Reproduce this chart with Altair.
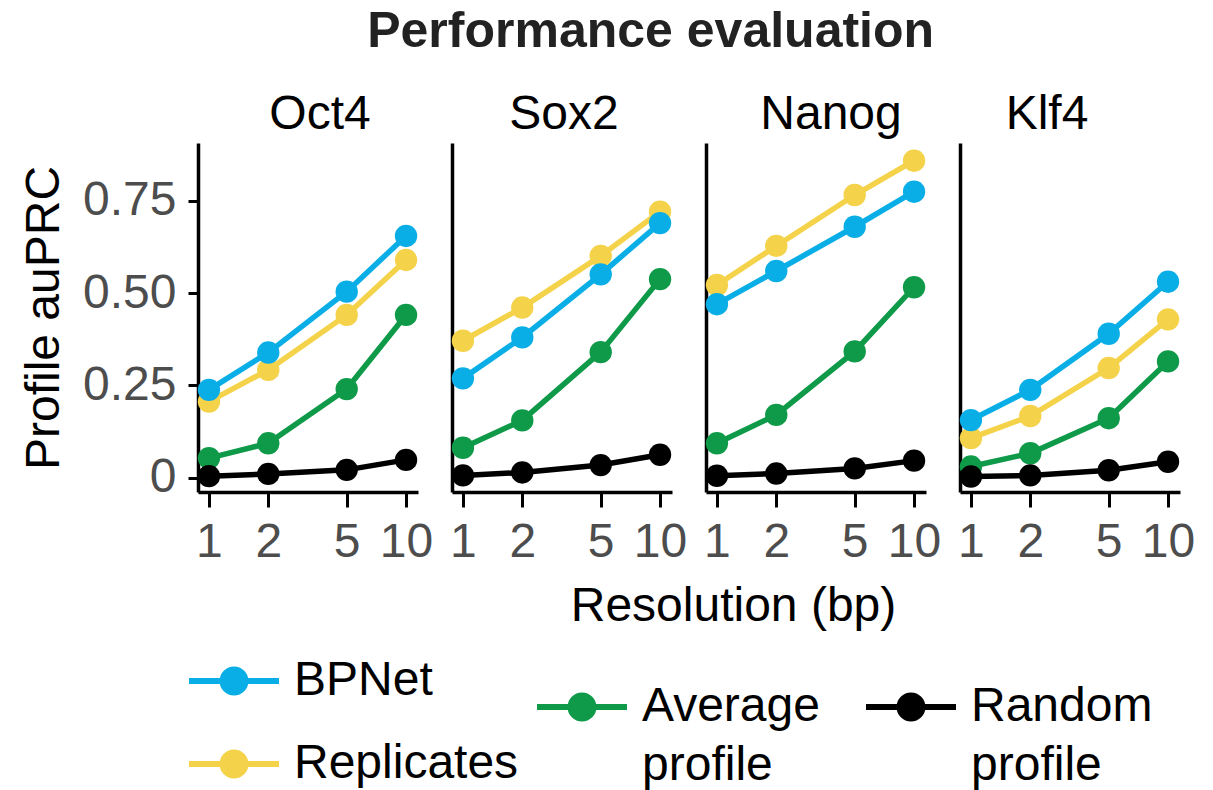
import altair as alt
import pandas as pd

# ---- data ----
resolution = [1, 2, 5, 10]
factors = ["Oct4", "Sox2", "Nanog", "Klf4"]
series_names = ["BPNet", "Replicates", "Average profile", "Random profile"]
series_colors = ["#0AAEE6", "#F4D24A", "#0E9A48", "#000000"]

oct4_bpnet = [0.238, 0.339, 0.504, 0.655]
oct4_replicates = [0.206, 0.292, 0.441, 0.590]
oct4_average = [0.053, 0.093, 0.240, 0.441]
oct4_random = [0.004, 0.010, 0.021, 0.048]

sox2_bpnet = [0.269, 0.380, 0.551, 0.690]
sox2_replicates = [0.371, 0.461, 0.601, 0.721]
sox2_average = [0.081, 0.155, 0.340, 0.538]
sox2_random = [0.006, 0.014, 0.034, 0.062]

nanog_bpnet = [0.470, 0.560, 0.680, 0.775]
nanog_replicates = [0.522, 0.628, 0.766, 0.859]
nanog_average = [0.093, 0.170, 0.342, 0.516]
nanog_random = [0.005, 0.011, 0.025, 0.046]

klf4_bpnet = [0.156, 0.238, 0.390, 0.531]
klf4_replicates = [0.107, 0.167, 0.297, 0.429]
klf4_average = [0.030, 0.066, 0.161, 0.315]
klf4_random = [0.003, 0.006, 0.020, 0.043]

y_ticks = [0, 0.25, 0.5, 0.75]

values = {
    "Oct4": [oct4_bpnet, oct4_replicates, oct4_average, oct4_random],
    "Sox2": [sox2_bpnet, sox2_replicates, sox2_average, sox2_random],
    "Nanog": [nanog_bpnet, nanog_replicates, nanog_average, nanog_random],
    "Klf4": [klf4_bpnet, klf4_replicates, klf4_average, klf4_random],
}

# draw order: Replicates under BPNet, Average under Random
draw_order = ["Replicates", "BPNet", "Average profile", "Random profile"]
rows = []
for f in factors:
    for s in draw_order:
        vals = values[f][series_names.index(s)]
        for r, v in zip(resolution, vals):
            rows.append({"factor": f, "series": s, "resolution": r, "auprc": v})
df = pd.DataFrame(rows)

group_a = series_names[:2]
group_b = series_names[2:]
colors_a = series_colors[:2]
colors_b = series_colors[2:]

FONT = "Liberation Sans"
LABEL_GREY = "#4D4D4D"
SYMBOL = "M-1,0L1,0M-0.255,0A0.255,0.255,0,1,1,0.255,0A0.255,0.255,0,1,1,-0.255,0Z"

legend_common = dict(
    symbolType=SYMBOL,
    symbolSize=8100,
    symbolStrokeWidth=6,
    labelFontSize=48,
    labelFont=FONT,
    labelColor="#000000",
    labelLimit=500,
    labelOffset=12,
    title=None,
    orient="none",
)

legend_a = alt.Legend(direction="vertical", legendX=-12, legendY=490,
                      rowPadding=11, **legend_common)
legend_b = alt.Legend(direction="horizontal", legendX=336, legendY=516,
                      columnPadding=34, labelExpr="split(datum.label, ' ')",
                      **legend_common)

W, H = 220, 349
title_shift = [12, 2, 15, -23]


def panel(i, name):
    d = df[df["factor"] == name]
    first = i == 0
    x_axis = alt.Axis(
        values=resolution, format="d", labelFontSize=48, labelColor=LABEL_GREY,
        labelFont=FONT, tickSize=15, tickWidth=3, tickColor="black",
        domainColor="black", domainWidth=3.5, grid=False, labelPadding=11,
        labelFlush=False, labelOverlap=False,
        title="Resolution (bp)" if i == 1 else None,
        titleFontSize=48, titleFont=FONT, titleFontWeight="normal",
        titleColor="black", titlePadding=16,
        **({"titleX": 281} if i == 1 else {}),
    )
    if first:
        y_axis = alt.Axis(
            values=y_ticks,
            labelExpr="datum.value == 0 ? '0' : format(datum.value, '.2f')",
            labelFontSize=48, labelColor=LABEL_GREY, labelFont=FONT,
            tickSize=10, tickWidth=3, tickColor="black", domainColor="black",
            domainWidth=3.5, grid=False, labelPadding=12,
            title="Profile auPRC", titleFontSize=48, titleFont=FONT,
            titleFontWeight="normal", titleColor="black", titlePadding=14,
        )
    else:
        y_axis = alt.Axis(
            values=y_ticks, labels=False, ticks=False, domainColor="black",
            domainWidth=3.5, grid=False, title=None,
        )
    x = alt.X("resolution:Q",
              scale=alt.Scale(type="log", domain=[0.88, 11.5], nice=False),
              axis=x_axis)
    y = alt.Y("auprc:Q",
              scale=alt.Scale(domain=[-0.039, 0.907], nice=False, zero=False),
              axis=y_axis)
    base = alt.Chart(d)
    a = base.transform_filter(alt.FieldOneOfPredicate(field="series", oneOf=group_a))
    b = base.transform_filter(alt.FieldOneOfPredicate(field="series", oneOf=group_b))
    color_a = alt.Color("series:N",
                        scale=alt.Scale(domain=group_a, range=colors_a),
                        legend=legend_a)
    stroke_b = alt.Stroke("series:N",
                          scale=alt.Scale(domain=group_b, range=colors_b),
                          legend=legend_b)
    fill_b = alt.Fill("series:N",
                      scale=alt.Scale(domain=group_b, range=colors_b),
                      legend=legend_b)
    la = a.mark_line(strokeWidth=5.5).encode(x=x, y=y, color=color_a)
    pa = a.mark_point(filled=True, size=500, opacity=1).encode(x=x, y=y, color=color_a)
    lb = b.mark_line(strokeWidth=5.5).encode(x=x, y=y, stroke=stroke_b)
    pb = b.mark_point(filled=True, size=500, opacity=1, strokeWidth=0).encode(x=x, y=y, fill=fill_b)
    return alt.layer(la, pa, lb, pb).properties(
        width=W, height=H,
        title=alt.TitleParams(name, fontSize=48, font=FONT, fontWeight="normal",
                              color="black", offset=4, dx=title_shift[i]),
    )


chart = alt.hconcat(*[panel(i, f) for i, f in enumerate(factors)],
                    spacing=34, bounds="flush").properties(
    title=alt.TitleParams("Performance evaluation", fontSize=50, font=FONT,
                          fontWeight="bold", color="#222222", anchor="middle",
                          offset=34, dx=43),
    padding={"left": 20, "top": 7, "right": 10, "bottom": 2},
).configure(
    view=alt.ViewConfig(stroke=None),
    style={"guide-label": {"lineHeight": 59}},
)

chart.save("out.html", embed_options={"renderer": "svg", "actions": False})
